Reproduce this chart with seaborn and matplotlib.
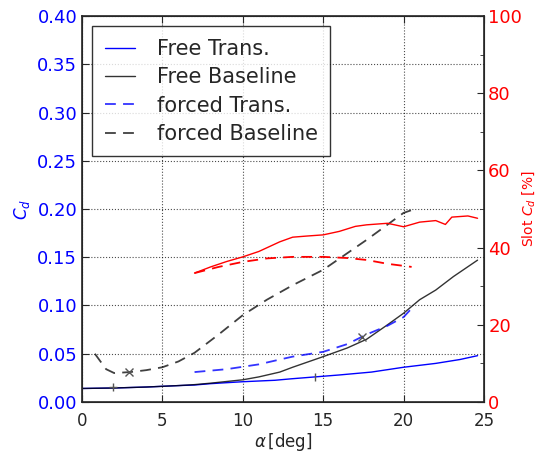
import numpy as np
import pandas as pd
import matplotlib
matplotlib.use("Agg")
import matplotlib.pyplot as plt
import seaborn as sns

# Free transition (blue solid)
alpha_free_trans = [0, 2, 4, 6, 7, 8, 10, 12, 13, 14.5, 16, 18, 20, 22, 23.5, 24.6]
cd_free_trans = [0.014, 0.0145, 0.0155, 0.017, 0.0176, 0.019, 0.021, 0.0225, 0.024, 0.026, 0.028, 0.031, 0.036, 0.040, 0.044, 0.048]

# Free baseline (black solid)
alpha_free_base = [0, 2, 4, 6, 7, 8, 10, 11, 12.3, 13.1, 15, 16.5, 17.7, 19, 20, 21, 22, 23.1, 24.6]
cd_free_base = [0.014, 0.0145, 0.0155, 0.017, 0.018, 0.0195, 0.023, 0.026, 0.031, 0.036, 0.047, 0.056, 0.065, 0.080, 0.092, 0.106, 0.116, 0.130, 0.147]

# forced transition (blue dashed)
alpha_forced_trans = [7, 9, 11, 12.3, 13.1, 15, 16.5, 17.7, 19, 20, 20.5]
cd_forced_trans = [0.031, 0.034, 0.039, 0.044, 0.047, 0.052, 0.060, 0.070, 0.079, 0.088, 0.097]

# forced baseline (black dashed)
alpha_forced_base = [0.8, 1.5, 2.0, 3.0, 4.0, 5.0, 6.0, 7.0, 8.5, 10.0, 11.5, 13.1, 15.0, 17.7, 20.0, 20.7]
cd_forced_base = [0.050, 0.034, 0.030, 0.031, 0.033, 0.036, 0.042, 0.051, 0.070, 0.090, 0.106, 0.121, 0.137, 0.168, 0.196, 0.200]

# Slot Cd [%] (right axis)
alpha_slot_free = [7, 8, 9, 10, 11, 12.3, 13.1, 14, 15, 16, 17, 17.7, 19, 20, 21, 22, 22.6, 23, 24, 24.6]
slot_free = [33.4, 35.0, 36.4, 37.6, 39.0, 41.5, 42.7, 43.0, 43.3, 44.2, 45.5, 45.9, 46.3, 45.4, 46.6, 47.0, 46.0, 47.9, 48.2, 47.6]
alpha_slot_forced = [7, 8.5, 10, 11.5, 13.1, 15, 16.5, 17.7, 19, 20.5]
slot_forced = [33.4, 35.0, 36.3, 37.2, 37.6, 37.6, 37.3, 36.8, 35.8, 35.0]

# transition markers
mark_alpha = [1.9, 2.9, 14.5, 17.4]
mark_cd = [0.016, 0.031, 0.026, 0.067]
mark_style = ["+", "x", "|", "x"]

sns.set_style("ticks")
plt.rcParams["font.family"] = ["DejaVu Sans"]
plt.rcParams["mathtext.fontset"] = "dejavusans"

fig = plt.figure(figsize=(5.38, 4.58), dpi=100)
ax = fig.add_axes([0.1524, 0.1223, 0.7472, 0.8427])

sns.lineplot(x=alpha_free_trans, y=cd_free_trans, ax=ax, color="b", lw=1, label="Free Trans.")
sns.lineplot(x=alpha_free_base, y=cd_free_base, ax=ax, color="k", lw=1, alpha=0.8, label="Free Baseline")
sns.lineplot(x=alpha_forced_trans, y=cd_forced_trans, ax=ax, color="b", lw=1.3, alpha=0.8, label="forced Trans.")
sns.lineplot(x=alpha_forced_base, y=cd_forced_base, ax=ax, color="k", lw=1.3, alpha=0.75, label="forced Baseline")
ax.lines[2].set_dashes([6, 4])
ax.lines[3].set_dashes([6, 4])

for a, c, m in zip(mark_alpha, mark_cd, mark_style):
    ax.plot(a, c, marker=m, color="#555555", ms=6, mew=1)

ax.set_xlim(0, 25)
ax.set_ylim(0, 0.40)
ax.set_xticks(np.arange(0, 26, 5))
ax.set_yticks(np.arange(0, 0.41, 0.05))
ax.set_yticklabels([f"{v:.2f}" for v in np.arange(0, 0.41, 0.05)], color="b")
ax.tick_params(direction="in", labelsize=13, top=True, length=5)
ax.tick_params(axis="x", labelsize=12, pad=7)
ax.grid(True, color="k", linestyle=":", lw=0.8, alpha=0.7)
ax.set_xlabel(r"$\alpha\,$[deg]", fontsize=12, labelpad=1)
ax.set_ylabel(r"$C_d$", color="b", fontsize=12, labelpad=4)
for s in ax.spines.values():
    s.set_linewidth(1.2)

leg = ax.legend(loc="upper left", fontsize=15, frameon=True, fancybox=False,
                borderaxespad=0.5, handlelength=1.45, handletextpad=1.05,
                labelspacing=0.4, borderpad=0.6)
leg.get_frame().set_edgecolor("k")
leg.get_frame().set_linewidth(1)

ax2 = ax.twinx()
sns.lineplot(x=alpha_slot_free, y=slot_free, ax=ax2, color="r", lw=1, legend=False)
sns.lineplot(x=alpha_slot_forced, y=slot_forced, ax=ax2, color="r", lw=1.3, legend=False)
ax2.lines[1].set_dashes([6, 4])
ax2.set_ylim(0, 100)
ax2.set_yticks(np.arange(0, 101, 20))
ax2.set_yticks(np.arange(10, 100, 20), minor=True)
ax2.tick_params(axis="y", which="both", direction="in", labelsize=13, labelcolor="r", length=5, pad=3)
ax2.tick_params(axis="y", which="minor", length=3)
ax2.set_ylabel(r"Slot $C_d$ [%]", color="r", fontsize=10, labelpad=-1)

fig.savefig("out.png", dpi=100)
